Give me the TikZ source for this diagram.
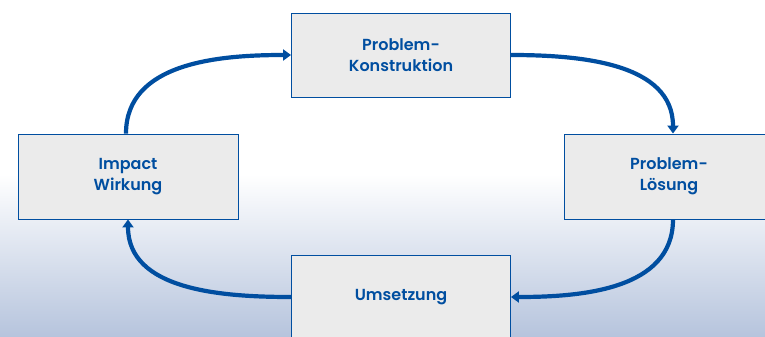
\documentclass[tikz,border=0pt]{standalone}
\usepackage{fontspec}
\setmainfont{Poppins}[UprightFont=* SemiBold, BoldFont=* Bold]
\usetikzlibrary{arrows.meta}
\definecolor{dblue}{RGB}{0,78,160}
\definecolor{boxfill}{RGB}{235,235,235}
\definecolor{bgbot}{RGB}{182,196,221}
\tikzset{
  box/.style={draw=dblue, line width=0.9pt, fill=boxfill, align=center,
    text=dblue, font=\fontsize{16}{21}\selectfont, inner sep=0pt},
  flow/.style={draw=dblue, line width=4.2pt, -{Triangle[length=8pt,width=11pt]}}
}
\begin{document}
\begin{tikzpicture}[x=1pt,y=-1pt]
\useasboundingbox (0,0) rectangle (765,337);
\fill[white] (0,0) rectangle (765,175);
\shade[top color=white, bottom color=bgbot] (0,174.5) rectangle (765,337);
\node[box, minimum width=219pt, minimum height=84pt] (T) at (401,55) {Problem-\\Konstruktion};
\node[box, minimum width=220pt, minimum height=85pt] (L) at (128,176.5) {Impact\\Wirkung};
\node[box, minimum width=210pt, minimum height=85pt] (R) at (669,176.5) {Problem-\\Lösung};
\node[box, minimum width=219pt, minimum height=100pt] (B) at (401,305) {};
\node[text=dblue, font=\fontsize{16}{21}\selectfont] (Bt) at (401,297) {Umsetzung};
\draw[flow] ([xshift=-2pt]L.north) to[out=90,in=180] (T.west);
\draw[flow] (T.east) to[out=0,in=90] ([xshift=4pt]R.north);
\draw[flow] ([xshift=4pt]R.south) to[out=-90,in=0] ([yshift=8pt]B.east);
\draw[flow] ([yshift=8pt]B.west) to[out=180,in=-90] (L.south);
\end{tikzpicture}
\end{document}
